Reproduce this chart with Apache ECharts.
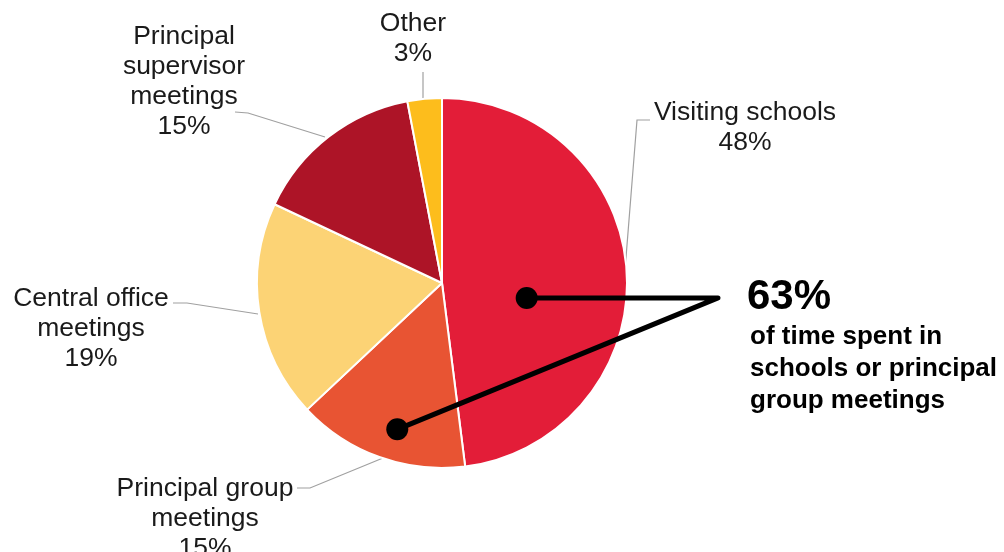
<!DOCTYPE html>
<html>
<head>
<meta charset="utf-8">
<script src="https://cdn.jsdelivr.net/npm/echarts@6/dist/echarts.min.js"></script>
<style>html,body{margin:0;padding:0;background:#fff}#c{width:1004px;height:552px}</style>
</head>
<body>
<div id="c"></div>
<script>
// Data
const categories = ['Visiting schools', 'Principal group\nmeetings', 'Central office\nmeetings', 'Principal\nsupervisor\nmeetings', 'Other'];
const shares = [48, 15, 19, 15, 3];
const sliceColors = ['#E31D38', '#E85433', '#FCD375', '#AD1427', '#FDBD1C'];
const calloutBig = '63%';
const calloutText = 'of time spent in\nschools or principal\ngroup meetings';

// Label placement (text anchor: center/top) and leader lines
const labelPlacement = [
  {x: 745, y: 98,  line: [[625, 270], [637, 120], [650, 120]]},
  {x: 205, y: 474, line: [[383, 458], [310, 488], [297, 488]]},
  {x: 91,  y: 284, line: [[258, 314], [187, 303], [173, 303]]},
  {x: 184, y: 22,  line: [[325, 137], [248, 113], [235, 112]]},
  {x: 413, y: 9,   line: [[423, 98], [423, 85], [423, 72]]}
];

const CX = 442, CY = 283, R = 185;
function polar(deg, rad) {
  const a = deg * Math.PI / 180;
  return [CX + rad * Math.cos(a), CY - rad * Math.sin(a)];
}
const dotA = polar(-10, 86);
const dotB = polar(-107, 153);
const elbow = [718, dotA[1]];

const chart = echarts.init(document.getElementById('c'));
chart.setOption({
  animation: false,
  backgroundColor: '#fff',
  series: [{
    type: 'pie',
    center: [CX, CY],
    radius: R,
    startAngle: 90,
    clockwise: true,
    data: categories.map((n, i) => ({name: n, value: shares[i], itemStyle: {color: sliceColors[i]}})),
    itemStyle: {borderColor: '#fff', borderWidth: 2},
    label: {
      show: true,
      formatter: '{b}\n{c}%',
      fontFamily: 'Liberation Sans, Arial, sans-serif',
      fontSize: 26.5,
      lineHeight: 30,
      color: '#1a1a1a',
      align: 'center'
    },
    labelLine: {show: true, lineStyle: {color: '#a0a0a0', width: 1.2}},
    labelLayout: function (params) {
      const p = labelPlacement[params.dataIndex];
      return {x: p.x, y: p.y, align: 'center', verticalAlign: 'top', labelLinePoints: p.line};
    }
  }],
  graphic: [
    {type: 'polyline', z: 100, shape: {points: [dotA, elbow, dotB]}, style: {stroke: '#000', lineWidth: 5, fill: null, lineJoin: 'round', lineCap: 'round'}},
    {type: 'circle', z: 101, shape: {cx: dotA[0], cy: dotA[1], r: 11}, style: {fill: '#000'}},
    {type: 'circle', z: 101, shape: {cx: dotB[0], cy: dotB[1], r: 11}, style: {fill: '#000'}},
    {type: 'text', z: 101, x: 747, y: 297, style: {text: calloutBig, font: 'bold 42px "Liberation Sans", Arial, sans-serif', fill: '#000', verticalAlign: 'middle', align: 'left'}},
    {type: 'text', z: 101, x: 750, y: 369, style: {text: calloutText, font: 'bold 26px "Liberation Sans", Arial, sans-serif', lineHeight: 32, fill: '#000', verticalAlign: 'middle', align: 'left'}}
  ]
});
</script>
</body>
</html>
